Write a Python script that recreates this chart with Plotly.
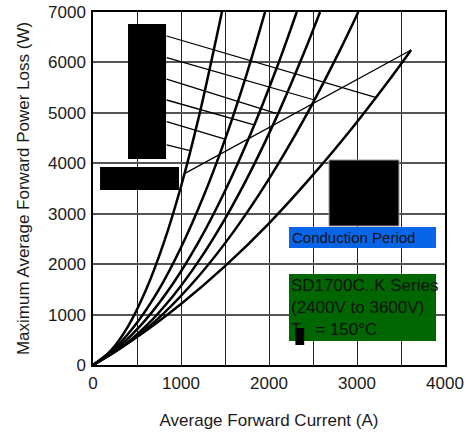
import plotly.graph_objects as go

# ---- data ----
c1_x = [0, 200, 400, 600, 800, 1000, 1200, 1400, 1465]
c1_y = [0, 280, 770, 1480, 2400, 3540, 4900, 6470, 7000]

c2_x = [0, 250, 500, 750, 1000, 1250, 1500, 1750, 1955]
c2_y = [0, 340, 840, 1500, 2330, 3320, 4470, 5790, 7000]

c3_x = [0, 300, 600, 900, 1200, 1500, 1800, 2100, 2315]
c3_y = [0, 370, 900, 1590, 2440, 3450, 4620, 5950, 7000]

c4_x = [0, 300, 600, 900, 1200, 1500, 1800, 2100, 2400, 2580]
c4_y = [0, 320, 770, 1350, 2060, 2900, 3870, 4970, 6200, 7000]

c5_x = [0, 400, 800, 1200, 1600, 2000, 2400, 2800, 3015]
c5_y = [0, 435, 1020, 1760, 2650, 3690, 4880, 6220, 7000]

dc_x = [0, 500, 1000, 1500, 2000, 2500, 3000, 3400, 3615]
dc_y = [0, 555, 1210, 1960, 2810, 3770, 4820, 5730, 6246]

curves = [(c1_x, c1_y), (c2_x, c2_y), (c3_x, c3_y), (c4_x, c4_y), (c5_x, c5_y), (dc_x, dc_y)]

# straight limit line
limit_x = [1045, 3615]
limit_y = [3800, 6246]

# leader lines: (start x, start y) -> (end x, end y) on curves
leader_x0 = [837, 837, 837, 837, 837, 837]
leader_y0 = [6524, 6094, 5671, 5255, 4825, 4363]
leader_x1 = [3220, 2517, 2080, 1841, 1500, 1102]
leader_y1 = [5300, 5255, 4990, 4759, 4480, 4250]

x_tick_vals = [0, 500, 1000, 1500, 2000, 2500, 3000, 3500, 4000]
x_tick_text = ["0", "", "1000", "", "2000", "", "3000", "", "4000"]
y_tick_vals = [0, 1000, 2000, 3000, 4000, 5000, 6000, 7000]
y_tick_text = ["0", "1000", "2000", "3000", "4000", "5000", "6000", "7000"]

x_title = "Average Forward Current (A)"
y_title = "Maximum Average Forward Power Loss (W)"
period_text = "Conduction Period"
info_text = "SD1700C..K Series<br>(2400V to 3600V)<br>T   = 150°C"

FONT = "Liberation Sans, Arial, sans-serif"

fig = go.Figure()

for cx, cy in curves:
    fig.add_trace(go.Scatter(x=cx, y=cy, mode="lines", line=dict(color="black", width=2.5, shape="spline"),
                             hoverinfo="skip", showlegend=False))

fig.add_trace(go.Scatter(x=limit_x, y=limit_y, mode="lines", line=dict(color="black", width=1.3),
                         hoverinfo="skip", showlegend=False))

for x0, y0, x1, y1 in zip(leader_x0, leader_y0, leader_x1, leader_y1):
    fig.add_trace(go.Scatter(x=[x0, x1], y=[y0, y1], mode="lines", line=dict(color="black", width=1.3),
                             hoverinfo="skip", showlegend=False))

shapes = [
    dict(type="rect", xref="x", yref="y", x0=398, x1=830, y0=4085, y1=6762,
         fillcolor="black", line=dict(width=0), layer="above"),
    dict(type="rect", xref="x", yref="y", x0=80, x1=977, y0=3470, y1=3926,
         fillcolor="black", line=dict(width=0), layer="above"),
    dict(type="rect", xref="x", yref="y", x0=2682, x1=3477, y0=2756, y1=4065,
         fillcolor="black", line=dict(color="#999", width=1), layer="above"),
    dict(type="rect", xref="x", yref="y", x0=2227, x1=3898, y0=2320, y1=2736,
         fillcolor="#0866e6", line=dict(width=0), layer="above"),
    dict(type="rect", xref="x", yref="y", x0=2227, x1=3898, y0=476, y1=1804,
         fillcolor="#006600", line=dict(width=0), layer="above"),
    dict(type="rect", xref="x", yref="y", x0=2300, x1=2400, y0=397, y1=734,
         fillcolor="black", line=dict(width=0), layer="above"),
]

annotations = [
    dict(x=2240, y=2528, xref="x", yref="y", text=period_text, showarrow=False,
         xanchor="left", yanchor="middle", font=dict(family=FONT, size=15, color="#111")),
    dict(x=2227, y=1140, xref="x", yref="y", text=info_text, showarrow=False,
         xanchor="left", yanchor="middle", align="left",
         font=dict(family=FONT, size=17, color="#111")),
]

fig.update_layout(
    width=471, height=436,
    margin=dict(l=93, r=26, t=12, b=71, autoexpand=False),
    paper_bgcolor="white", plot_bgcolor="white",
    font=dict(family=FONT, size=17, color="#1a1a1a"),
    shapes=shapes, annotations=annotations,
    showlegend=False,
)
fig.update_xaxes(
    range=[0, 4000], tickmode="array", tickvals=x_tick_vals, ticktext=x_tick_text, ticks="",
    showgrid=True, gridcolor="#222", gridwidth=1,
    showline=True, linecolor="black", linewidth=1.5, mirror=True,
    zeroline=False, ticklabelstandoff=2, automargin=False, ticklabeloverflow="allow",
    title=dict(text=x_title, standoff=22, font=dict(size=17)),
)
fig.update_yaxes(
    range=[0, 7000], tickmode="array", tickvals=y_tick_vals, ticktext=y_tick_text, ticks="",
    showgrid=True, gridcolor="#555", gridwidth=1.5,
    showline=True, linecolor="black", linewidth=1.5, mirror=True,
    zeroline=False, ticklabelstandoff=2, automargin=False, ticklabeloverflow="allow",
    title=dict(text=y_title, standoff=14, font=dict(size=17)),
)

# remove the default 8px page margin so the figure sits at the window origin
fig.write_html("out.html", config={"displayModeBar": False},
               post_script="document.body.style.margin='0';")
